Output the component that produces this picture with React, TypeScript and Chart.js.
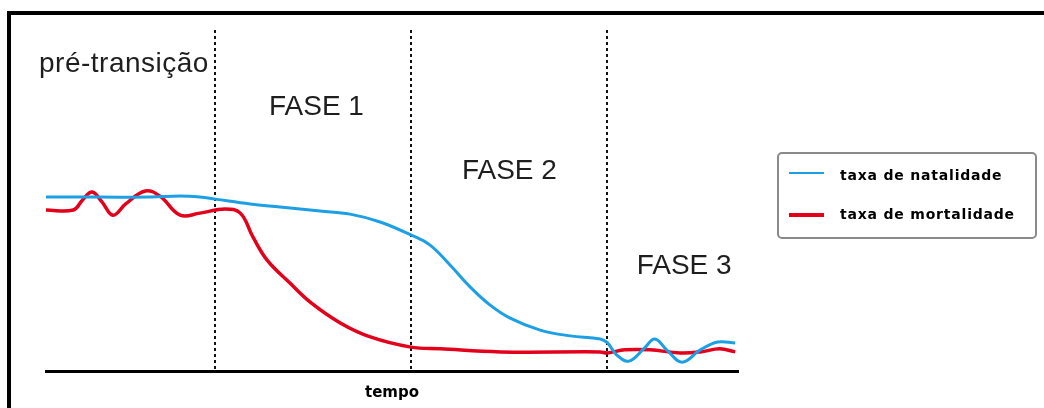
import React, { useEffect, useRef } from "react";
import { Chart, registerables } from "chart.js";

Chart.register(...registerables);

// ---- data (time in arbitrary units, rate in arbitrary units) ----
const birthTime = [0, 7.7, 14.9, 19.2, 22.0, 24.2, 29.2, 33.5, 39.2, 43.5, 47.8, 52.2, 54.9, 57.8, 60.7, 63.5, 66.4, 70.7, 75.0, 79.3, 80.3, 81.7, 83.4, 85.6, 87.1, 88.8, 91.0, 93.6, 96.1, 98.6];
const birthRate = [51.0, 51.0, 51.0, 51.3, 51.0, 50.4, 49.0, 48.1, 46.9, 46.0, 43.7, 39.9, 37.0, 31.1, 24.6, 19.4, 15.5, 12.0, 10.3, 9.4, 8.3, 4.6, 2.9, 6.7, 9.4, 6.2, 2.6, 6.2, 8.5, 8.2];

const deathTime = [0, 3.9, 5.2, 6.6, 8.0, 9.6, 11.4, 14.2, 16.3, 19.2, 22.0, 25.6, 27.8, 29.6, 31.6, 34.9, 37.8, 42.1, 46.4, 52.2, 56.4, 65.0, 79.3, 80.3, 82.8, 86.4, 90.7, 93.6, 96.4, 98.6];
const deathRate = [47.2, 47.2, 50.1, 52.5, 49.6, 45.7, 49.0, 52.8, 51.3, 45.7, 46.3, 47.5, 46.3, 39.3, 32.6, 25.8, 20.2, 14.1, 10.0, 7.0, 6.5, 5.6, 5.6, 5.3, 6.2, 6.2, 5.3, 5.6, 6.5, 5.6];

const phaseBoundaries = [24.2, 52.2, 80.2];
const phaseLabels = ["pré-transição", "FASE 1", "FASE 2", "FASE 3"];
const phaseLabelX = [-1.0, 31.9, 59.5, 84.5];
const phaseLabelY = [87.7, 75.1, 56.4, 28.4];

const seriesNames = ["taxa de natalidade", "taxa de mortalidade"];
const axisTitle = "tempo";

const BLUE = "#1c9fe4";
const RED = "#e3001b";

const decorPlugin = {
  id: "decor",
  beforeDraw(chart: any) {
    const { ctx, width, height } = chart;
    ctx.save();
    ctx.fillStyle = "#ffffff";
    ctx.fillRect(0, 0, width, height);
    ctx.restore();
  },
  afterDraw(chart: any) {
    const { ctx } = chart;
    const xs = chart.scales.x;
    const ys = chart.scales.y;
    ctx.save();
    // frame
    ctx.fillStyle = "#000";
    ctx.fillRect(7, 11, 4, 420);
    ctx.fillRect(7, 11, 1060, 4);

    // phase labels
    ctx.font = "28px 'Liberation Sans', Arial, sans-serif";
    ctx.fillStyle = "#1e1e1e";
    ctx.textAlign = "left";
    ctx.textBaseline = "alphabetic";
    phaseLabels.forEach((t, i) => {
      (ctx as any).letterSpacing = i === 0 ? "0.5px" : "0px";
      ctx.fillText(t, xs.getPixelForValue(phaseLabelX[i]), ys.getPixelForValue(phaseLabelY[i]));
    });

    // legend box
    const bx = 778, by = 153, bw = 258, bh = 85;
    ctx.strokeStyle = "#8a8a8a";
    ctx.lineWidth = 2;
    ctx.beginPath();
    (ctx as any).roundRect(bx, by, bw, bh, 4);
    ctx.stroke();

    const colors = [BLUE, RED];
    const widths = [2, 4];
    const rows = [173, 215];
    const baselines = [180, 219];
    ctx.font = "bold 14px 'DejaVu Sans', sans-serif";
    (ctx as any).letterSpacing = "0.8px";
    seriesNames.forEach((name, i) => {
      ctx.strokeStyle = colors[i];
      ctx.lineWidth = widths[i];
      ctx.beginPath();
      ctx.moveTo(789, rows[i]);
      ctx.lineTo(824, rows[i]);
      ctx.stroke();
      ctx.fillStyle = "#000";
      ctx.fillText(name, 840, baselines[i]);
    });
    ctx.restore();
  },
};

export default function App() {
  const ref = useRef<HTMLCanvasElement | null>(null);
  useEffect(() => {
    if (!ref.current) return;
    const chart = new Chart(ref.current, {
      type: "line",
      data: {
        datasets: [
          {
            label: seriesNames[0],
            data: birthTime.map((t, i) => ({ x: t, y: birthRate[i] })),
            borderColor: BLUE,
            borderWidth: 3,
            pointRadius: 0,
            tension: 0.4,
            fill: false,
          },
          {
            label: seriesNames[1],
            data: deathTime.map((t, i) => ({ x: t, y: deathRate[i] })),
            borderColor: RED,
            borderWidth: 3.5,
            pointRadius: 0,
            tension: 0.4,
            fill: false,
          },
        ],
      },
      options: {
        animation: false,
        responsive: false,
        events: [],
        layout: { padding: { left: 46, right: 306, top: 30, bottom: 6 } },
        plugins: { legend: { display: false }, tooltip: { enabled: false } },
        scales: {
          x: {
            type: "linear",
            min: 0,
            max: 99,
            afterBuildTicks: (s: any) => {
              s.ticks = phaseBoundaries.map((v) => ({ value: v }));
            },
            ticks: { display: false },
            grid: { color: "#111", lineWidth: 2, drawTicks: false },
            border: { display: true, color: "#000", width: 3, dash: [3, 3] },
            title: {
              display: true,
              text: axisTitle,
              color: "#000",
              font: { family: "'DejaVu Sans', sans-serif", size: 15, weight: "bold", lineHeight: 1.2 },
              padding: { top: 13, bottom: 0 },
            },
          },
          y: { display: false, min: 0, max: 100 },
        },
      },
      plugins: [decorPlugin],
    } as any);
    return () => chart.destroy();
  }, []);
  return (
    <div style={{ position: "absolute", left: 0, top: 0, width: 1044, height: 408 }}>
      <canvas ref={ref} width={1044} height={408} style={{ display: "block" }} />
    </div>
  );
}
